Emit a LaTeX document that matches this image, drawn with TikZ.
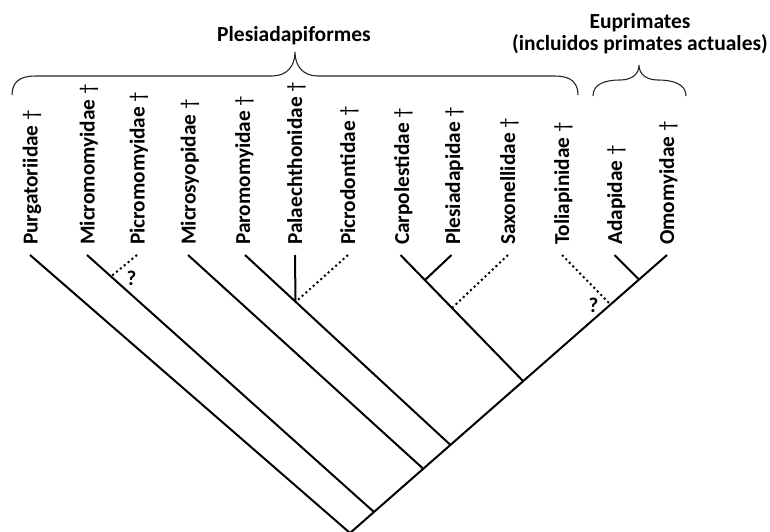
\documentclass[tikz,border=0pt]{standalone}
\usepackage{fontspec}
\setmainfont{Carlito}
\newcommand{\extinct}{{\mdseries †}}
\begin{document}
\begin{tikzpicture}[x=1pt, y=-1pt,
  taxon/.style={rotate=90, anchor=base west, inner sep=0pt, font=\fontsize{21.3}{24}\selectfont\bfseries},
  clade/.style={align=center, inner sep=0pt, font=\fontsize{21.5}{22}\selectfont\bfseries},
  branch/.style={line width=2pt},
  uncertain/.style={line width=2pt, dash pattern=on 2pt off 3pt},
  bracket/.style={line width=1.1pt, black!85},
  query/.style={inner sep=0pt, font=\fontsize{21}{21}\selectfont\bfseries}]
  \useasboundingbox (0,0) rectangle (770,532);

  % tips of the branches
  \coordinate (purg) at (30,255);
  \coordinate (micro) at (87,255);
  \coordinate (picro) at (137,255);
  \coordinate (msyo) at (188,255);
  \coordinate (paro) at (245,255);
  \coordinate (palae) at (295,255);
  \coordinate (picrod) at (348,255);
  \coordinate (carpo) at (400.5,255);
  \coordinate (plesi) at (451.5,255);
  \coordinate (saxo) at (508,255);
  \coordinate (tolia) at (562,255);
  \coordinate (adap) at (614.5,255);
  \coordinate (omo) at (667,255);

  % junctions
  \coordinate (root) at (350,533);
  \coordinate (j1) at (374,512);
  \coordinate (j2) at (423.5,469);
  \coordinate (j3) at (450.5,445);
  \coordinate (j4) at (523,381);
  \coordinate (j5) at (610.5,304.5);
  \coordinate (j6) at (639,279.5);
  \coordinate (picro-j) at (111,276.5);
  \coordinate (palae-j) at (295.5,302);
  \coordinate (carpo-j) at (425,280);
  \coordinate (saxo-j) at (452,308);

  % family names
  \node[taxon] (purg-l) at (37.5,245) {Purgatoriidae \extinct};
  \node[taxon] (micro-l) at (94.5,245) {Micromomyidae \extinct};
  \node[taxon] (picro-l) at (144.5,245) {Picromomyidae \extinct};
  \node[taxon] (msyo-l) at (195.5,245) {Microsyopidae \extinct};
  \node[taxon] (paro-l) at (250,245) {Paromomyidae \extinct};
  \node[taxon] (palae-l) at (302,245) {Palaechthonidae \extinct};
  \node[taxon] (picrod-l) at (355,245) {Picrodontidae \extinct};
  \node[taxon] (carpo-l) at (409,245) {Carpolestidae \extinct};
  \node[taxon] (plesi-l) at (460,245) {Plesiadapidae \extinct};
  \node[taxon] (saxo-l) at (515,245) {Saxonellidae \extinct};
  \node[taxon] (tolia-l) at (569,245) {Toliapinidae \extinct};
  \node[taxon] (adap-l) at (622,245) {Adapidae \extinct};
  \node[taxon] (omo-l) at (674,245) {Omomyidae \extinct};

  % tree
  \draw[branch] (purg) -- (root) -- (omo);
  \draw[branch] (micro) -- (j1);
  \draw[branch] (msyo) -- (j2);
  \draw[branch] (paro) -- (j3);
  \draw[branch] (palae) -- (palae-j);
  \draw[branch] (carpo) -- (j4);
  \draw[branch] (plesi) -- (carpo-j);
  \draw[branch] (adap) -- (j6);
  \draw[uncertain] (picro) -- (picro-j);
  \draw[uncertain] (picrod) -- (palae-j);
  \draw[uncertain] (saxo) -- (saxo-j);
  \draw[uncertain] (tolia) -- (j5);

  \node[query] (q1) at (131.5,278.5) {?};
  \node[query] (q2) at (593.5,305) {?};

  % groups
  \node[clade] (plesio) at (294,36) {Plesiadapiformes};
  \node[clade] (eupri) at (640,34) {Euprimates\\(incluidos primates actuales)};
  \draw[bracket] (12,95) .. controls (12,82) and (20,76) .. (35,76) -- (272,76)
    .. controls (287,76) and (295,66) .. (295,52)
    .. controls (295,66) and (303,76) .. (318,76) -- (555,76)
    .. controls (570,76) and (578,82) .. (578,95);
  \draw[bracket] (593,96) .. controls (593,84) and (605,80) .. (620,80)
    .. controls (632,80) and (639,74) .. (639,65)
    .. controls (639,74) and (646,80) .. (658,80)
    .. controls (673,80) and (686,84) .. (686,96);
\end{tikzpicture}
\end{document}
